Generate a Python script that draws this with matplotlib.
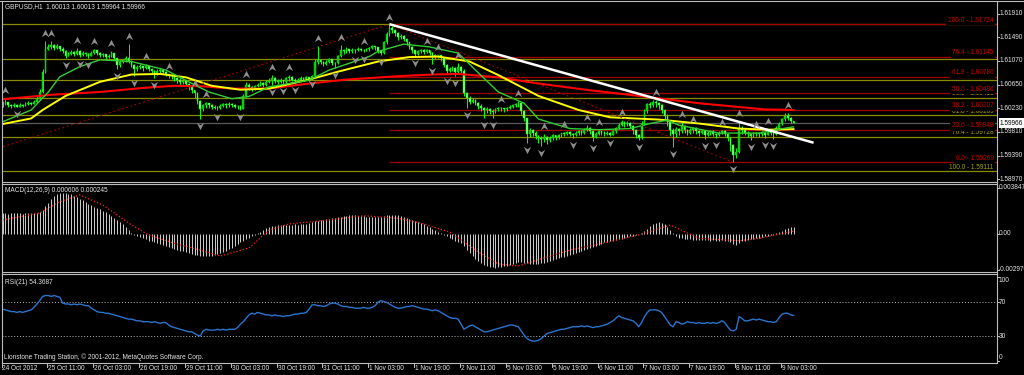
import numpy as np
import matplotlib
matplotlib.use("Agg")
import matplotlib.pyplot as plt
from matplotlib.path import Path
from matplotlib.lines import Line2D
from matplotlib.transforms import blended_transform_factory as blend

plt.rcParams["font.family"] = ["Liberation Sans", "DejaVu Sans"]

# ------------------------------------------------------------------ data
title = "GBPUSD,H1  1.60013 1.60013 1.59964 1.59966"
macd_label = "MACD(12,26,9) 0.000606 0.000245"
rsi_label = "RSI(21) 54.3687"
footer = "Lionstone Trading Station, \u00a9 2001-2012, MetaQuotes Software Corp."

base = 1.59  # OHLC below in pips above 1.59000
first_open = 128
close = [
    130, 134, 129, 127, 128, 126, 129, 127, 130, 132,
    131, 134, 140, 152, 188, 228, 232, 236, 230, 233,
    229, 225, 216, 220, 223, 219, 225, 218, 221, 219,
    216, 222, 226, 221, 217, 219, 214, 216, 221, 212,
    200, 205, 208, 212, 206, 200, 192, 196, 198, 194,
    199, 193, 189, 185, 189, 191, 187, 184, 182, 180,
    176, 174, 170, 172, 166, 160, 155, 150, 136, 122,
    128, 132, 129, 126, 124, 124, 127, 130, 128, 131,
    129, 126, 125, 122, 145, 165, 160, 158, 162, 165,
    168, 164, 170, 172, 176, 172, 170, 173, 169, 176,
    179, 174, 171, 174, 177, 175, 178, 175, 180, 205,
    208, 205, 202, 206, 210, 204, 203, 215, 226, 224,
    228, 225, 227, 226, 229, 227, 226, 228, 230, 233,
    231, 225, 221, 240, 255, 266, 262, 256, 250, 252,
    246, 240, 232, 226, 220, 224, 227, 223, 226, 222,
    215, 218, 217, 212, 200, 190, 193, 195, 188, 197,
    190, 150, 142, 135, 138, 132, 127, 124, 120, 122,
    118, 117, 121, 124, 123, 121, 124, 126, 128, 130,
    132, 118, 105, 78, 84, 80, 74, 70, 68, 72,
    66, 70, 75, 72, 76, 79, 78, 81, 77, 75,
    80, 83, 79, 84, 88, 82, 72, 78, 82, 80,
    78, 80, 76, 82, 88, 94, 98, 95, 97, 92,
    84, 75, 70, 96, 118, 130, 128, 134, 132, 128,
    120, 110, 98, 84, 78, 86, 82, 92, 84, 80,
    85, 88, 82, 79, 83, 76, 80, 82, 78, 75,
    80, 83, 78, 70, 58, 40, 46, 88, 84, 80,
    78, 74, 79, 80, 77, 80, 76, 83, 80, 78,
    88, 96, 104, 110, 106, 101.3, 96.6,
]
high = [
    136, 141, 135, 131, 132, 130, 133, 131, 134, 136,
    135, 138, 146, 158, 192, 242, 238, 242, 237, 237,
    234, 231, 226, 223, 226, 224, 230, 226, 224, 223,
    221, 225, 228, 227, 223, 222, 220, 220, 225, 222,
    213, 208, 211, 215, 237, 208, 201, 200, 201, 199,
    202, 200, 195, 191, 192, 194, 192, 189, 184, 184,
    181, 178, 176, 175, 173, 168, 162, 154, 152, 138,
    131, 134, 133, 131, 128, 127, 130, 133, 132, 134,
    133, 131, 129, 128, 148, 170, 168, 163, 165, 168,
    171, 170, 173, 176, 182, 178, 175, 176, 174, 179,
    182, 180, 176, 177, 180, 179, 181, 179, 182, 210,
    233, 211, 207, 209, 213, 211, 206, 218, 235, 228,
    231, 229, 230, 229, 232, 230, 228, 230, 232, 235,
    234, 232, 226, 243, 258, 272, 269, 264, 258, 255,
    253, 247, 241, 233, 227, 226, 229, 228, 228, 227,
    223, 220, 218, 217, 213, 201, 196, 198, 196, 203,
    199, 192, 152, 145, 141, 140, 134, 130, 126, 125,
    124, 121, 123, 126, 125, 124, 126, 128, 131, 133,
    136, 133, 120, 104, 88, 86, 82, 76, 74, 77,
    74, 73, 77, 76, 78, 80, 81, 83, 82, 79,
    82, 85, 84, 88, 93, 89, 84, 81, 84, 83,
    82, 83, 81, 84, 90, 97, 102, 100, 101, 99,
    94, 86, 78, 100, 122, 133, 134, 137, 138, 135,
    130, 122, 112, 100, 88, 90, 88, 99, 94, 86,
    88, 90, 89, 85, 86, 84, 83, 85, 84, 80,
    83, 84, 84, 80, 72, 60, 52, 100, 92, 87,
    82, 80, 81, 81, 80, 83, 81, 86, 85, 82,
    92, 99, 106, 114, 115, 108, 101.3,
]
low = [
    126, 129, 126, 124, 125, 125, 127, 125, 127, 129,
    128, 130, 133, 139, 150, 186, 226, 229, 227, 228,
    225, 221, 212, 215, 218, 216, 218, 214, 216, 215,
    212, 215, 220, 218, 214, 214, 211, 212, 214, 208,
    193, 197, 203, 206, 204, 196, 180, 189, 193, 190,
    192, 190, 185, 177, 182, 186, 184, 181, 177, 175,
    171, 168, 165, 166, 162, 155, 150, 142, 130, 104,
    118, 124, 124, 122, 121, 120, 122, 125, 124, 126,
    125, 123, 122, 120, 121, 143, 156, 154, 156, 160,
    163, 161, 163, 168, 164, 168, 167, 168, 166, 168,
    172, 171, 168, 170, 172, 171, 173, 172, 178, 179,
    202, 201, 198, 200, 204, 200, 195, 202, 214, 220,
    222, 222, 222, 221, 224, 224, 223, 224, 225, 228,
    227, 222, 218, 220, 238, 252, 257, 252, 245, 246,
    242, 236, 228, 222, 216, 218, 221, 220, 221, 218,
    202, 210, 212, 207, 196, 184, 187, 190, 180, 186,
    186, 145, 124, 130, 132, 128, 122, 118, 106, 114,
    112, 106, 114, 118, 118, 116, 118, 121, 123, 125,
    126, 112, 100, 61, 72, 74, 68, 62, 56, 64,
    60, 63, 66, 67, 69, 72, 74, 75, 73, 70,
    73, 76, 75, 78, 82, 78, 65, 70, 75, 76,
    74, 75, 74, 75, 80, 86, 92, 90, 91, 88,
    78, 70, 67, 69, 94, 115, 124, 126, 125, 122,
    114, 104, 92, 74, 54, 72, 76, 80, 79, 75,
    77, 80, 78, 74, 77, 69, 73, 76, 74, 70,
    73, 77, 74, 65, 48, 27, 35, 44, 78, 75,
    72, 67, 72, 74, 72, 74, 70, 75, 76, 69,
    76, 86, 94, 101, 102, 97, 96.4,
]

# moving averages, read at sample bars (pips above 1.59)
ma_red_bars = [0, 17, 34, 51, 60, 70, 80, 93, 107, 120, 138, 150, 159, 173, 187, 205, 222, 243, 266, 276]
ma_red = [139, 147, 152, 160, 163, 162, 158, 158, 167, 174, 180, 183, 184, 178, 167, 155, 145, 132, 121, 120]
ma_yel_bars = [0, 10, 14, 22, 34, 45, 55, 64, 73, 83, 93, 107, 117, 131, 142, 152, 163, 173, 187, 201,
               212, 229, 243, 257, 267, 276]
ma_yel = [95, 105, 120, 145, 170, 183, 184, 178, 163, 156, 158, 174, 188, 206, 214, 215, 206, 182, 145, 120,
          107, 103, 96, 87, 85, 86]
ma_grn_bars = [0, 10, 16, 20, 27, 34, 45, 57, 65, 72, 80, 86, 93, 107, 114, 128, 131, 140, 149, 159,
               165, 173, 182, 187, 198, 208, 219, 226, 232, 236, 250, 264, 271, 276]
ma_grn = [99, 120, 152, 179, 197, 209, 206, 191, 170, 152, 140, 144, 161, 173, 191, 215, 224, 237, 232, 221,
          191, 152, 132, 104, 87, 85, 87, 96, 102, 93, 79, 79, 86, 90]

# fractals (bar, marker level in pips above 1.59)
up_bars = [1, 15, 17, 26, 32, 38, 44, 50, 58, 67, 71, 85, 94, 100, 110, 118, 126, 135, 148, 152,
           159, 174, 180, 189, 196, 204, 208, 216, 228, 237, 241, 251, 257, 263, 267, 274]
up_lvl = [155, 257, 257, 244, 242, 239, 251, 216, 198, 168, 148, 184, 196, 196, 248, 250, 242, 285, 242, 232,
          218, 140, 150, 92, 95, 108, 99, 116, 152, 113, 104, 99, 115, 95, 100, 129]
dn_bars = [5, 22, 27, 30, 40, 46, 53, 69, 75, 83, 94, 98, 102, 108, 116, 123, 126, 132, 144, 150,
           155, 158, 162, 168, 171, 183, 188, 199, 206, 212, 222, 234, 245, 249, 255, 261, 266, 269]
dn_lvl = [113, 200, 202, 200, 180, 168, 164, 92, 108, 108, 152, 154, 156, 166, 182, 209, 211, 205, 203, 189,
          172, 168, 111, 93, 93, 49, 44, 58, 53, 61, 54, 42, 56, 58, 15, 54, 58, 56]

# fibonacci retracements and trend line
fib_levels = [0.0, 23.6, 38.2, 50.0, 61.8, 76.4, 100.0]
fib_olive_bars = [-27, 135]          # 100% -> 0%
fib_olive_prices = [1.59111, 1.61724]
fib_red_bars = [135, 255]            # 100% -> 0%
fib_red_prices = [1.61724, 1.59269]
trend_bars = [135, 283]
trend_prices = [1.61724, 1.59619]
bid = 1.59966

# MACD histogram (x1e-5) and signal samples
macd = [
    172, 174, 170, 173, 175, 176, 172, 171, 174, 176, 175, 177, 178,
    185, 200, 230, 260,
    290, 315, 330, 340, 345, 342, 338, 330, 320,
    310, 295, 280, 265, 250, 240, 228, 215, 205,
    195, 180, 165, 150, 135, 120, 100, 80, 55, 30,
    10, -5,
    -15, -25, -35, -45, -55, -62, -70, -78, -85, -92, -100, -108, -115, -122, -130, -138, -145, -152,
    -160, -168, -172, -176,
    -180, -183, -185, -182, -180, -175, -168, -160,
    -150, -140, -128, -115, -100, -85, -70, -55, -42, -30, -18, -8,
    5, 20, 35, 50, 62,
    68, 70, 72, 74, 75, 74, 76, 78, 80, 78, 80, 82, 85,
    90, 98, 105, 112, 118, 120, 122,
    125, 130, 135, 140, 145, 150, 152, 155, 158, 156, 152, 150, 148, 145, 142, 140, 138, 140, 145, 150,
    155, 160, 162,
    160, 155, 150, 142, 135, 128, 120, 110, 100, 90, 80, 70, 58, 45,
    32, 20, 8, -5, -18, -30, -42, -55, -65, -75,
    -100, -130, -160, -185, -205, -225, -240, -255, -265, -272, -278, -280,
    -278, -274, -270, -265, -258, -250, -242, -235,
    -235, -240, -245, -248, -250, -250, -248, -245, -240, -235,
    -228, -220, -212, -204, -196, -188, -180, -172, -165, -158, -150, -143, -136, -128, -120, -112,
    -104, -95, -85,
    -70, -65, -60, -55, -50, -44, -38, -32, -26, -20, -14, -8, -3,
    10, 25, 45, 65, 85, 95, 100, 95,
    80, 60, 30, 5,
    -20, -30, -35, -40, -42, -45,
    -48, -50, -52, -50, -52, -54, -55, -53, -55, -56, -54, -55, -58,
    -65, -85, -90, -75,
    -60, -55, -50, -45, -40, -35, -30, -25, -20, -15, -10,
    -5, 5, 15, 28, 40, 50, 58, 61,
]
signal_bars = [0, 13, 20, 27, 35, 44, 51, 60, 69, 76, 86, 93, 100, 114, 126, 138, 146, 156, 166, 173,
               180, 189, 198, 208, 222, 233, 238, 243, 257, 264, 276]
signal = [117, 175, 270, 326, 242, 92, -8, -78, -134, -184, -117, 33, 84, 117, 153, 131, 90, 17, -150, -250,
          -267, -200, -134, -84, -8, 75, 19, -36, -56, -36, 24]

rsi = [
    62, 61, 60, 59, 59, 58, 59, 58, 59, 60, 61, 64, 68, 72,
    77, 78, 78, 77, 78, 77, 76, 69,
    68, 68, 67, 68, 67, 68, 67, 66, 66, 63, 61, 59,
    58, 58, 57, 57, 56, 55, 54, 53, 52, 51, 50, 50,
    49, 48, 48, 47, 47, 47, 46, 47, 46, 45, 46, 46,
    43, 41, 40, 39, 38, 37, 36, 35, 35, 33, 31, 30,
    36, 38, 37, 37, 37, 38, 37, 38, 37, 38, 38, 38,
    40, 44, 47, 51, 55, 57, 56, 58, 57,
    56, 55, 55, 54, 55, 54, 54, 53, 54, 54, 55, 56, 56, 57,
    57, 58, 62, 67, 67, 66, 66, 65, 66,
    68, 69, 69, 68, 66, 65, 65, 64, 64, 63,
    63, 63, 64, 63, 63, 64, 66, 70, 72, 71, 70,
    68, 66, 64, 63, 63, 64, 65, 65, 66, 65, 64,
    63, 62, 62, 61, 60, 61, 60, 58, 56, 54, 52, 51,
    51, 50, 44, 38, 40, 42, 43, 41, 39,
    37, 35, 35, 36, 37, 38, 39, 40, 41, 42, 43, 43, 42, 41,
    36, 31, 27, 25, 24, 24, 25, 27, 30, 33, 34, 35,
    36, 37, 38, 38, 39, 40, 41, 41, 41, 42, 41, 42, 41, 40, 41, 41,
    42, 43, 44, 46, 48, 51, 54, 52, 51, 50, 49, 48, 45, 41,
    46, 53, 58, 61, 61, 61, 60, 58, 53, 48, 43, 41,
    47, 46, 44, 45, 47, 46, 46, 45, 46, 45, 45, 46, 45, 46, 45, 46,
    48, 46, 41, 37, 36, 38, 53, 51, 48,
    48, 49, 50, 49, 50, 49, 48, 47, 47, 46, 47,
    52, 56, 57, 57, 55, 54.4,
]

time_labels = ["24 Oct 2012", "25 Oct 11:00", "26 Oct 03:00", "26 Oct 19:00", "29 Oct 11:00",
               "30 Oct 03:00", "30 Oct 19:00", "31 Oct 11:00", "1 Nov 03:00", "1 Nov 19:00",
               "2 Nov 11:00", "5 Nov 03:00", "5 Nov 19:00", "6 Nov 11:00", "7 Nov 03:00",
               "7 Nov 19:00", "8 Nov 11:00", "9 Nov 03:00"]
price_ticks = [1.61910, 1.61490, 1.61070, 1.60650, 1.60230, 1.59810, 1.59390, 1.58970]

n = len(close)
assert len(high) == n and len(low) == n and len(macd) == n and len(rsi) == n, \
    (n, len(high), len(low), len(macd), len(rsi))

# ------------------------------------------------------------------ layout
W, H = 1024, 375
SP, X0, XR = 2.866, 2.5, 996.5          # px per bar, px of bar 0, right edge of plot
PPX = 0.0042 / 23.65                     # price per pixel in main window
FG = "#e6e6e6"
FS = 4.7

fig = plt.figure(figsize=(W / 100, H / 100), dpi=100, facecolor="black")


def box(x0, y0, x1, y1):
    return [x0 / W, 1 - y1 / H, (x1 - x0) / W, (y1 - y0) / H]


def price_at(y):
    return 1.61910 - (y - 13.7) * PPX


def fline(x0, y0, x1, y1, **kw):
    fig.add_artist(Line2D([x0 / W, x1 / W], [1 - y0 / H, 1 - y1 / H], transform=fig.transFigure, **kw))


xl = ((2 - X0) / SP, (XR - X0) / SP)
ax = fig.add_axes(box(2, 2, XR, 181.5))
axm = fig.add_axes(box(2, 184, XR, 271.7))
axr = fig.add_axes(box(2, 274, XR, 362.7))
for a in (ax, axm, axr):
    a.set_facecolor("black")
    a.set_xlim(xl)
    a.axis("off")
ax.set_ylim(price_at(181.5), price_at(2))
axm.set_ylim(-(271.7 - 234) * 8.35, (234 - 184) * 8.35)
axr.set_ylim(30 - (362.7 - 336) / 0.8425, 30 + (336 - 274) / 0.8425)

# ------------------------------------------------------------------ main window
idx = np.arange(n)
c = base + np.array(close) / 1e4
o = np.concatenate([[base + first_open / 1e4], c[:-1]])
h = np.maximum.reduce([base + np.array(high) / 1e4, o, c])
lo = np.minimum.reduce([base + np.array(low) / 1e4, o, c])


def fib_price(prices, lvl):
    p100, p0 = prices
    return p0 + (p100 - p0) * lvl / 100


# bid line runs across; the fibo captions (black boxes) hide its right end
ax.axhline(bid, color="#5c5c5c", lw=0.9, zorder=1)
for lvl in fib_levels:
    ax.axhline(fib_price(fib_olive_prices, lvl), color="#8b8b00", lw=0.9, zorder=1)
for lvl in fib_levels:
    ax.hlines(fib_price(fib_red_prices, lvl), fib_red_bars[0], xl[1], color="#a00000", lw=0.9, zorder=1.2)
for lvl in fib_levels:
    p = fib_price(fib_olive_prices, lvl)
    ax.annotate(f"{lvl:.1f} - {p:.5f}", xy=(xl[1], p), xytext=(-3, 4), textcoords="offset pixels",
                ha="right", va="center", fontsize=FS, color="#a0a000", zorder=1.5)
for lvl in fib_levels:
    p = fib_price(fib_red_prices, lvl)
    ax.annotate(f"{lvl:.1f} - {p:.5f}", xy=(xl[1], p), xytext=(-3, 4), textcoords="offset pixels",
                ha="right", va="center", fontsize=FS, color="#c80000", zorder=2.5,
                bbox=dict(boxstyle="square,pad=0.25", fc="black", ec="none"))

# candles
ax.vlines(idx, lo, h, color="#00ff00", lw=0.75, zorder=3)
bull = c >= o
body = np.where(np.abs(c - o) < 0.00003, 0.00003, c - o)
ax.bar(idx[bull], body[bull], bottom=o[bull], width=0.6, color="#10c010", edgecolor="#00ff00", lw=0.3, zorder=3)
ax.bar(idx[~bull], body[~bull], bottom=o[~bull], width=0.6, color="#80ff80", edgecolor="#00ff00", lw=0.3, zorder=3)

# moving averages
ax.plot(ma_red_bars, base + np.array(ma_red) / 1e4, color="#ff0000", lw=1.5, zorder=4)
ax.plot(ma_yel_bars, base + np.array(ma_yel) / 1e4, color="#ffff00", lw=1.4, zorder=4)
ax.plot(ma_grn_bars, base + np.array(ma_grn) / 1e4, color="#32cd32", lw=1.0, zorder=4)

# fibo base lines and trend line
ax.plot(fib_olive_bars, fib_olive_prices, color="#b00000", lw=0.8, ls=(0, (1.5, 2.5)), zorder=5)
ax.plot(fib_red_bars, fib_red_prices, color="#b00000", lw=0.8, ls=(0, (1.5, 2.5)), zorder=5)
ax.plot(trend_bars, trend_prices, color="white", lw=1.8, zorder=5, solid_capstyle="butt")

# fractals
up_arrow = Path([(0, 1), (1, -1), (0, -0.35), (-1, -1), (0, 1)],
                [Path.MOVETO, Path.LINETO, Path.LINETO, Path.LINETO, Path.CLOSEPOLY])
dn_arrow = Path([(0, -1), (1, 1), (0, 0.35), (-1, 1), (0, -1)],
                [Path.MOVETO, Path.LINETO, Path.LINETO, Path.LINETO, Path.CLOSEPOLY])
ax.scatter(up_bars, base + np.array(up_lvl) / 1e4, marker=up_arrow, s=28, color="#8e8e8e", lw=0, zorder=6)
ax.scatter(dn_bars, base + np.array(dn_lvl) / 1e4, marker=dn_arrow, s=28, color="#8e8e8e", lw=0, zorder=6)

# ------------------------------------------------------------------ MACD
axm.vlines(idx, 0, macd, color="#cfcfcf", lw=0.7)
axm.plot(signal_bars, signal, color="#ff2020", lw=0.9, ls=(0, (1, 1.6)))

# ------------------------------------------------------------------ RSI
axr.axhline(70, color="#b8b8b8", lw=0.7, ls=(0, (1, 2)))
axr.axhline(30, color="#b8b8b8", lw=0.7, ls=(0, (1, 2)))
axr.plot(idx, rsi, color="#2a74cc", lw=1.0)

# ------------------------------------------------------------------ texts
fig.text(5 / W, 1 - 6.7 / H, title, color=FG, fontsize=FS, va="center")
fig.text(5 / W, 1 - 190.7 / H, macd_label, color=FG, fontsize=FS, va="center")
fig.text(5 / W, 1 - 282.3 / H, rsi_label, color=FG, fontsize=FS, va="center")
fig.text(3.5 / W, 1 - 357.3 / H, footer, color=FG, fontsize=FS, va="center")

tr = blend(fig.transFigure, ax.transData)
for p in price_ticks:
    fig.text(1000 / W, p, f"{p:.5f}", transform=tr, color=FG, fontsize=FS, va="center")
    ax.plot([xl[1], xl[1] + 1.0], [p, p], color="#c0c0c0", lw=0.7, clip_on=False)
fig.text(1000 / W, 1 - 123.3 / H, f"{bid:.5f}", color="black", fontsize=FS, va="center",
         bbox=dict(boxstyle="square,pad=0.2", fc="white", ec="none"))

trm = blend(fig.transFigure, axm.transData)
for v, txt in ((384.7, "0.003847"), (0, "0.00"), (-297, "-0.002970")):
    fig.text(999 / W, v, txt, transform=trm, color=FG, fontsize=FS, va="center")
    axm.plot([xl[1], xl[1] + 1.0], [v, v], color="#c0c0c0", lw=0.7, clip_on=False)
trr = blend(fig.transFigure, axr.transData)
for v, txt, va in ((100, "100", "top"), (70, "70", "center"), (30, "30", "center"), (0, "0", "bottom")):
    fig.text(999 / W, v, txt, transform=trr, color=FG, fontsize=FS, va=va)
    axr.plot([xl[1], xl[1] + 1.0], [v, v], color="#c0c0c0", lw=0.7, clip_on=False)

for k, lab in enumerate(time_labels):
    b = 16 * k
    xp = X0 + b * SP
    fig.text(xp / W, 1 - 368.5 / H, lab, color=FG, fontsize=FS, va="center", ha="left")
    fline(xp - 1, 362.7, xp - 1, 366.5, color="#c0c0c0", lw=0.7)

# frame
FR = "#bdbdbd"
fline(0, 1.0, W, 1.0, color=FR, lw=0.8)
fline(1.5, 1, 1.5, 363, color=FR, lw=0.8)
fline(XR, 1, XR, 363, color=FR, lw=0.8)
for y in (181.8, 183.6, 272.0, 273.8, 362.7):
    fline(1.5, y, XR, y, color=FR, lw=0.8)

fig.savefig("out.png", dpi=100, facecolor="black")
